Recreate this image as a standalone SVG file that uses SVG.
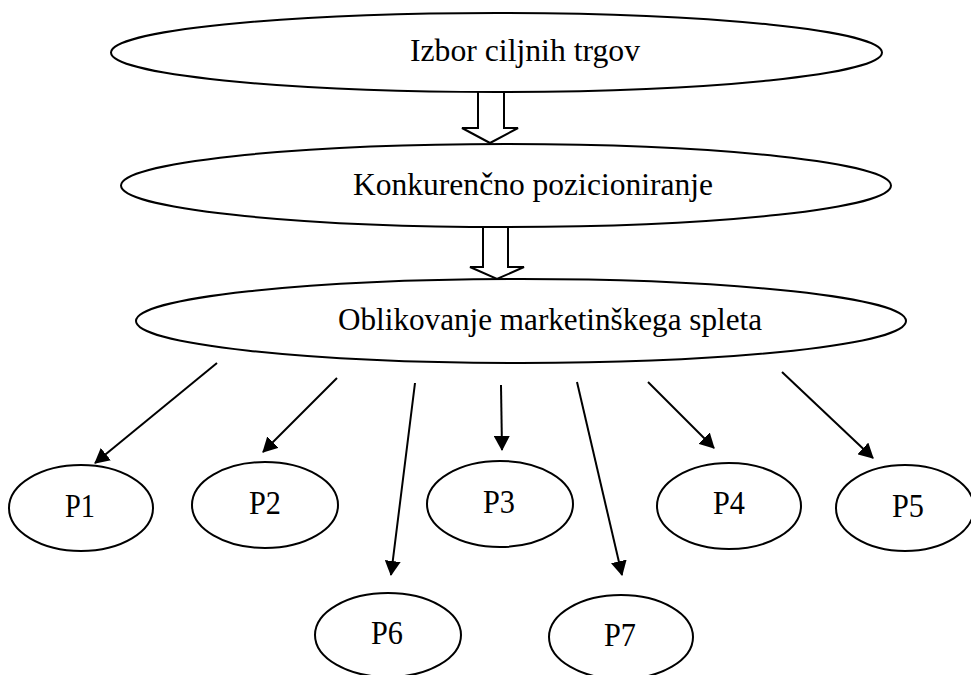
<svg xmlns="http://www.w3.org/2000/svg" width="971" height="675" viewBox="0 0 971 675">
<style>
.n{fill:#fff;stroke:#000;stroke-width:2}
.t{font-family:"Liberation Serif","Times New Roman",serif;font-size:31px;fill:#000;text-anchor:middle}
.p{font-family:"Liberation Serif","Times New Roman",serif;font-size:33px;fill:#000;text-anchor:middle}
.c{stroke:#000;stroke-width:2;fill:none}
.b{fill:#fff;stroke:#000;stroke-width:2;stroke-linejoin:miter}
</style>
<defs>
<marker id="ah" markerUnits="userSpaceOnUse" markerWidth="15" markerHeight="16" refX="14" refY="8" orient="auto">
<path d="M0,0 L15,8 L0,16 z" fill="#000"/>
</marker>
</defs>
<rect width="971" height="675" fill="#fff"/>
<g id="connectors">
<path class="b" d="M478,92 V128 H462 L490,143 L518,128 H504 V92"/>
<path class="b" d="M483,227 V267 H470 L497,279 L524,267 H508 V227"/>
<line class="c" x1="217" y1="363" x2="95" y2="463" marker-end="url(#ah)"/>
<line class="c" x1="337" y1="378" x2="263" y2="452" marker-end="url(#ah)"/>
<line class="c" x1="415" y1="383" x2="391" y2="575" marker-end="url(#ah)"/>
<line class="c" x1="501" y1="385" x2="502" y2="450" marker-end="url(#ah)"/>
<line class="c" x1="577" y1="382" x2="622" y2="575" marker-end="url(#ah)"/>
<line class="c" x1="648" y1="382" x2="714" y2="448" marker-end="url(#ah)"/>
<line class="c" x1="782" y1="372" x2="873" y2="458" marker-end="url(#ah)"/>
</g>
<g id="n1">
<ellipse class="n" cx="496.5" cy="52.5" rx="385.5" ry="39.5"/>
<text class="t" x="525" y="61" textLength="230" lengthAdjust="spacingAndGlyphs">Izbor ciljnih trgov</text>
</g>
<g id="n2">
<ellipse class="n" cx="506" cy="185.5" rx="385" ry="41.5"/>
<text class="t" x="533" y="195" textLength="360" lengthAdjust="spacingAndGlyphs">Konkurenčno pozicioniranje</text>
</g>
<g id="n3">
<ellipse class="n" cx="521" cy="321" rx="385" ry="42"/>
<text class="t" x="550" y="330" textLength="424" lengthAdjust="spacingAndGlyphs">Oblikovanje marketinškega spleta</text>
</g>
<g id="p1">
<ellipse class="n" cx="81" cy="508" rx="72" ry="43"/>
<text class="p" x="80" y="517" textLength="30" lengthAdjust="spacingAndGlyphs">P1</text>
</g>
<g id="p2">
<ellipse class="n" cx="265" cy="505" rx="73" ry="43"/>
<text class="p" x="265" y="514" textLength="32" lengthAdjust="spacingAndGlyphs">P2</text>
</g>
<g id="p3">
<ellipse class="n" cx="500" cy="504" rx="73" ry="43"/>
<text class="p" x="499" y="513" textLength="32" lengthAdjust="spacingAndGlyphs">P3</text>
</g>
<g id="p4">
<ellipse class="n" cx="729" cy="506" rx="72" ry="43"/>
<text class="p" x="729" y="514" textLength="32" lengthAdjust="spacingAndGlyphs">P4</text>
</g>
<g id="p5">
<ellipse class="n" cx="905" cy="508" rx="69" ry="43"/>
<text class="p" x="908" y="517" textLength="32" lengthAdjust="spacingAndGlyphs">P5</text>
</g>
<g id="p6">
<ellipse class="n" cx="388" cy="635" rx="73" ry="42"/>
<text class="p" x="387" y="644" textLength="32" lengthAdjust="spacingAndGlyphs">P6</text>
</g>
<g id="p7">
<ellipse class="n" cx="621" cy="637" rx="72" ry="42"/>
<text class="p" x="620" y="646" textLength="32" lengthAdjust="spacingAndGlyphs">P7</text>
</g>
</svg>
